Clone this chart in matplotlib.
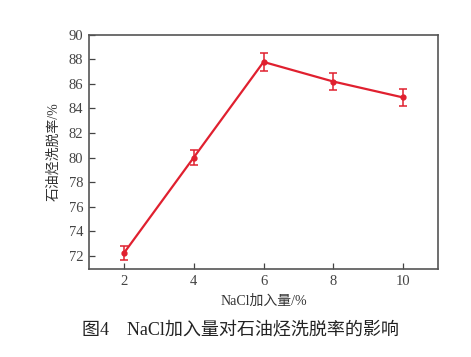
import matplotlib
matplotlib.use("Agg")
import matplotlib.pyplot as plt

plt.rcParams['font.family'] = ['Liberation Serif', 'Noto Sans CJK SC']

nacl = [2, 4, 6, 8, 10]
removal = [72.2, 80.0, 87.8, 86.2, 84.9]
errors = [0.6, 0.65, 0.7, 0.68, 0.67]
xticks = [2, 4, 6, 8, 10]
yticks = [72, 74, 76, 78, 80, 82, 84, 86, 88, 90]

fig = plt.figure(figsize=(4.71, 3.57), dpi=100)
ax = fig.add_axes([0.189, 0.2465, 0.741, 0.6555])
color = '#e0202f'
ax.errorbar(nacl, removal, yerr=errors, color=color, lw=1.6, marker='o', ms=3.5,
            capsize=3, elinewidth=1.1, capthick=1.1)
ax.set_xlim(1, 11)
ax.set_ylim(70.9, 90)
ax.set_xticks(xticks)
ax.set_yticks(yticks)
ax.tick_params(direction='in', length=4, width=0.9, labelsize=10.5, colors='#444444',
               pad=4)
for s in ax.spines.values():
    s.set_color('#555555')
    s.set_linewidth(1.2)
ax.set_xlabel('NaCl加入量/%', fontsize=10, labelpad=5, color='#333333')
ax.set_ylabel('石油烃洗脱率/%', fontsize=10, labelpad=6, color='#333333')
fig.text(82/471, 1 - 330/357, '图4　NaCl加入量对石油烃洗脱率的影响', fontsize=13,
         ha='left', va='center', color='#222222')
fig.savefig('out.png', dpi=100)
